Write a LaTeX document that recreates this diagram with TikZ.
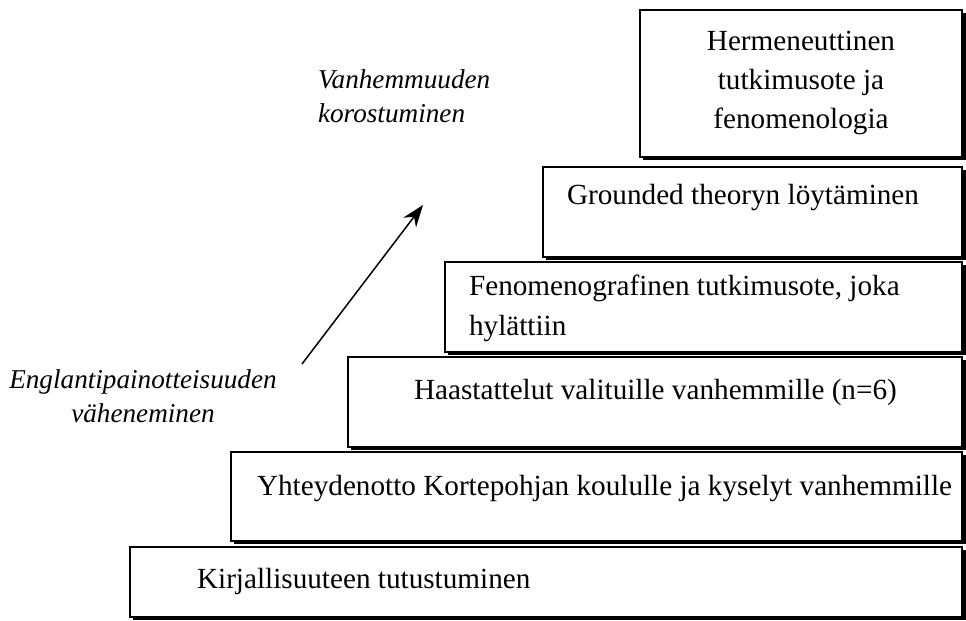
\documentclass[tikz,border=0pt]{standalone}
\usepackage{fontspec}
\setmainfont{Liberation Serif}
\usetikzlibrary{arrows.meta}

\begin{document}
\begin{tikzpicture}[x=0.5pt, y=-0.5pt, font=\fontsize{14.6}{20}\selectfont]
\useasboundingbox (0,0) rectangle (966,621);

% Steps (left, top, bottom), shadow first
\foreach \l/\t/\b in {130/547/617, 231/452/541, 348/357/447, 445/262/352, 543/167/257, 640/10/157} {
  \fill[black] (\l+3,\t+3) rectangle (965.5,\b+2.5);
  \draw[fill=white, line width=0.6pt] (\l,\t) rectangle (962,\b);
}

% Step texts
\node[anchor=west] (lit) at (190,581) {Kirjallisuuteen tutustuminen};
\node[anchor=west] (contact) at (250,489) {Yhteydenotto Kortepohjan koululle ja kyselyt vanhemmille};
\node[anchor=west] (interv) at (407,392) {Haastattelut valituille vanhemmille (n=6)};
\node[anchor=west, align=left] (phenogr) at (462,308) {Fenomenografinen tutkimusote, joka\\hylättiin};
\node[anchor=west] (grounded) at (560,198) {Grounded theoryn löytäminen};
\node[align=center, font=\fontsize{14.6}{19.5}\selectfont] (herm) at (801,83) {Hermeneuttinen\\tutkimusote ja\\fenomenologia};

% Trend labels
\node[align=center, font=\fontsize{13.6}{17}\itshape] (lblEng) at (143,396) {Englantipainotteisuuden\\väheneminen};
\node[anchor=west, align=left, font=\fontsize{13.6}{17}\itshape] (lblParent) at (311,96) {Vanhemmuuden\\korostuminen};

% Trend arrow
\coordinate (tail) at (302,364);
\coordinate (head) at (423,205);
\draw[line width=0.75pt, -{Stealth[length=11pt, width=8pt]}] (tail) -- (head);

\end{tikzpicture}
\end{document}
